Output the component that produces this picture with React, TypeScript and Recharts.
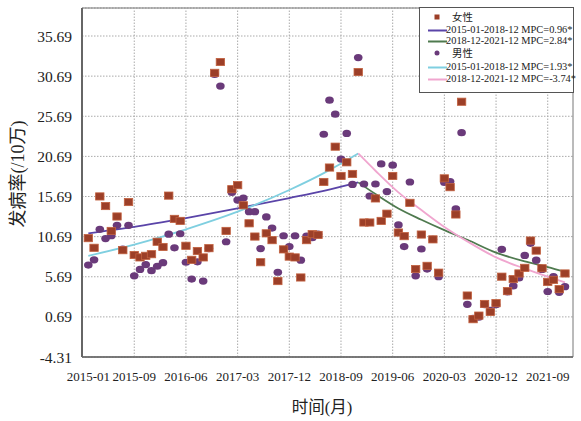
import React from 'react';
import {
  ComposedChart,
  Scatter,
  Line,
  XAxis,
  YAxis,
  CartesianGrid,
  ReferenceLine,
  ReferenceArea,
} from 'recharts';

// monthly incidence, 2015-01 .. 2021-12 (index 0..83)
const femaleRate = [
  10.5, 9.3, 15.7, 14.5, 11.4, 13.2, 9.0, 15.0, 8.4, 8.1, 8.3, 8.5,
  10.05, 9.4, 15.8, 12.9, 12.65, 9.55, 7.8, 8.9, 8.1, 9.25, 31.1, 32.45,
  11.4, 16.6, 17.1, 14.6, 12.35, 10.7, 7.5, 11.1, 10.25, 5.15, 9.1, 8.2,
  8.1, 5.6, 10.25, 11.0, 10.9, 17.5, 19.3, 21.9, 18.25, 19.95, 18.5, 31.2,
  12.45, 12.45, 15.45, 12.65, 13.55, 18.25, 11.2, 10.75, 14.9, 6.65, 10.95, 7.05,
  10.35, 6.2, 17.95, 16.85, 13.45, 27.5, 3.35, 0.4, 0.85, 2.3, 1.3, 2.4,
  5.7, 3.9, 5.4, 6.1, 6.8, 10.2, 8.95, 6.75, 5.05, 5.3, 4.15, 6.1,
];

const maleRate = [
  7.15, 7.8, 11.6, 10.45, 10.8, 12.1, 9.15, 12.1, 5.8, 6.6, 7.2, 6.45,
  7.0, 7.45, 11.0, 9.3, 11.05, 7.5, 5.4, 7.55, 5.15, 9.2, 30.9, 29.45,
  10.05, 16.2, 15.25, 15.5, 13.8, 13.8, 9.2, 13.15, 11.75, 6.25, 10.8, 9.45,
  10.8, 7.75, 10.75, 10.55, 11.0, 23.45, 27.7, 25.95, 20.35, 23.55, 17.2, 33.0,
  17.25, 15.75, 17.25, 19.75, 16.3, 19.6, 12.15, 9.45, 17.5, 5.8, 9.15, 6.65,
  10.35, 5.7, 17.45, 17.55, 14.15, 23.65, 2.25, 0.5, 0.65, 2.2, 1.5, 2.2,
  9.1, 3.8, 4.55, 5.55, 8.35, 9.85, 7.75, 6.6, 3.85, 5.7, 3.75, 4.45,
];

// fitted segments (read at a few months)
const segAIdx = [0, 8, 17, 26, 35, 41, 47];
const segBIdx = [47, 50, 54, 58, 62, 66, 71, 76, 80, 83];
const femaleSegA = [11.1, 11.9, 13.0, 14.2, 15.5, 16.4, 17.45];
const femaleSegB = [17.45, 16.0, 14.2, 12.8, 11.5, 10.3, 8.7, 7.6, 6.9, 6.3];
const maleSegA = [8.3, 9.7, 11.6, 13.8, 16.5, 18.6, 21.05];
const maleSegB = [21.05, 18.9, 16.2, 14.0, 11.9, 10.1, 8.1, 6.7, 5.7, 5.0];

const xTicks = [0, 8, 17, 26, 35, 44, 53, 62, 71, 80];
const xTickLabels = ['2015-01', '2015-09', '2016-06', '2017-03', '2017-12', '2018-09', '2019-06', '2020-03', '2020-12', '2021-09'];
const yTicks = [-4.31, 0.69, 5.69, 10.69, 15.69, 20.69, 25.69, 30.69, 35.69];

const rows = femaleRate.map((f, i) => {
  const r: any = { i, female: f, male: maleRate[i] };
  const a = segAIdx.indexOf(i);
  const b = segBIdx.indexOf(i);
  if (a >= 0) { r.fA = femaleSegA[a]; r.mA = maleSegA[a]; }
  if (b >= 0) { r.fB = femaleSegB[b]; r.mB = maleSegB[b]; }
  return r;
});

const SQUARE = '#9c3f28';
const DOT = '#6a3a7a';
const C_FA = '#5a44a8';
const C_FB = '#4f7a4f';
const C_MA = '#7fcfe0';
const C_MB = '#f0a6cf';

const serif = "'Liberation Serif', 'Times New Roman', 'Noto Sans CJK SC', serif";

const SquareMark = (p: any) => (
  <rect x={p.cx - 4.2} y={p.cy - 3.6} width={8.4} height={7.2} fill={SQUARE} stroke="#c2613f" strokeWidth={0.8} />
);
const DotMark = (p: any) => <ellipse cx={p.cx} cy={p.cy} rx={4.3} ry={3.6} fill={DOT} />;

const legendRows = [
  { kind: 'square', color: SQUARE, text: '女性', y: 17 },
  { kind: 'line', color: C_FA, text: '2015-01-2018-12 MPC=0.96*', y: 29 },
  { kind: 'line', color: C_FB, text: '2018-12-2021-12 MPC=2.84*', y: 40 },
  { kind: 'dot', color: DOT, text: '男性', y: 53 },
  { kind: 'line', color: C_MA, text: '2015-01-2018-12 MPC=1.93*', y: 66 },
  { kind: 'line', color: C_MB, text: '2018-12-2021-12 MPC=-3.74*', y: 78 },
];

const LegendBox = () => (
  <div style={{ position: 'absolute', left: 419, top: 7, width: 155, height: 86, background: '#fff', border: '1px solid #555', boxSizing: 'border-box' }}>
    {legendRows.map((r) => (
      <div key={r.text} style={{ position: 'absolute', left: 0, top: r.y - 7 - 7, height: 14, width: 152, fontFamily: serif, fontSize: 10.4, lineHeight: '14px', color: '#222' }}>
        <svg width={30} height={14} style={{ position: 'absolute', left: 6, top: 0 }}>
          {r.kind === 'line' && <line x1={2} y1={7.5} x2={21} y2={7.5} stroke={r.color} strokeWidth={2} />}
          {r.kind === 'square' && <rect x={8.5} y={3.5} width={5} height={5} fill={r.color} />}
          {r.kind === 'dot' && <circle cx={11} cy={6} r={2.5} fill={r.color} />}
        </svg>
        <span style={{ position: 'absolute', left: r.kind === 'line' ? 26 : 32, top: 0, whiteSpace: 'nowrap' }}>{r.text}</span>
      </div>
    ))}
  </div>
);

export default function App() {
  return (
    <div style={{ position: 'absolute', left: 0, top: 0, width: 581, height: 421, background: '#fff' }}>
      <ComposedChart width={581} height={421} data={rows} margin={{ top: 8, right: 8, bottom: 34, left: 0 }}>
        <CartesianGrid vertical={false} stroke="#aaa" strokeDasharray="1.5 1.5" />
        {xTicks.slice(1).map((t) => (
          <ReferenceLine key={t} x={t} stroke="#aaa" strokeDasharray="1.5 1.5" />
        ))}
        <XAxis
          dataKey="i"
          type="number"
          domain={[-1.1, 84.4]}
          ticks={xTicks}
          tickFormatter={(v: number) => xTickLabels[xTicks.indexOf(v)] ?? ''}
          interval={0}
          height={30}
          tickLine={false}
          tickSize={6}
          tickMargin={9}
          axisLine={{ stroke: '#666', strokeWidth: 1.5 }}
          tick={{ fill: '#222', fontSize: 13, fontFamily: serif }}
          allowDataOverflow
        />
        <YAxis
          type="number"
          domain={[-4.31, 39.18]}
          ticks={yTicks}
          interval={0}
          width={82}
          tickLine={false}
          tickSize={6}
          tickMargin={4}
          tickFormatter={(v: number) => v.toFixed(2)}
          axisLine={{ stroke: '#666', strokeWidth: 2 }}
          tick={{ fill: '#222', fontSize: 15.5, fontFamily: serif }}
          allowDataOverflow
        />
        <ReferenceArea x1={-1.1} x2={84.4} y1={-4.31} y2={39.18} fill="none" stroke="#777" strokeWidth={1} />
        <Line dataKey="fA" type="monotone" stroke={C_FA} strokeWidth={1.8} dot={false} connectNulls isAnimationActive={false} />
        <Line dataKey="fB" type="monotone" stroke={C_FB} strokeWidth={1.8} dot={false} connectNulls isAnimationActive={false} />
        <Line dataKey="mA" type="monotone" stroke={C_MA} strokeWidth={1.8} dot={false} connectNulls isAnimationActive={false} />
        <Line dataKey="mB" type="monotone" stroke={C_MB} strokeWidth={1.8} dot={false} connectNulls isAnimationActive={false} />
        <Scatter dataKey="male" shape={DotMark} isAnimationActive={false} />
        <Scatter dataKey="female" shape={SquareMark} isAnimationActive={false} />
      </ComposedChart>
      <LegendBox />
      <div style={{ position: 'absolute', left: 18 - 80, top: 174 - 11, width: 160, height: 22, textAlign: 'center', transform: 'rotate(-90deg)', fontFamily: serif, fontSize: 18, lineHeight: '22px', color: '#222', whiteSpace: 'nowrap' }}>
        发病率(/10万)
      </div>
      <div style={{ position: 'absolute', left: 322 - 60, top: 408 - 11, width: 120, textAlign: 'center', fontFamily: serif, fontSize: 16.5, lineHeight: '22px', color: '#222' }}>
        时间(月)
      </div>
    </div>
  );
}
